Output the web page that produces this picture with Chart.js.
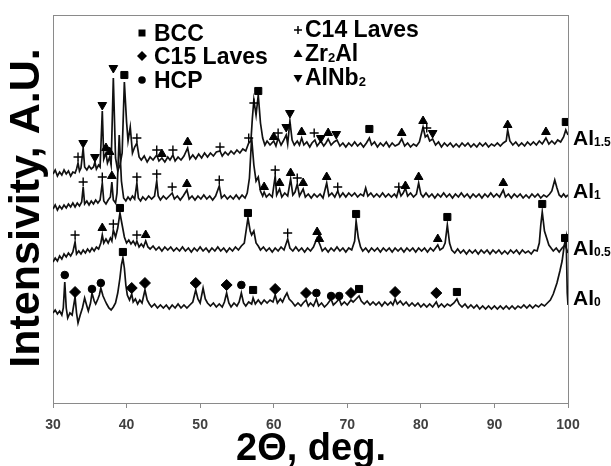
<!DOCTYPE html>
<html>
<head>
<meta charset="utf-8">
<script src="https://cdn.jsdelivr.net/npm/chart.js@4/dist/chart.umd.min.js"></script>
<style>
  html, body { margin: 0; padding: 0; background: #fff; }
  #wrap { width: 611px; height: 466px; position: relative; }
</style>
</head>
<body>
<div id="wrap"><canvas id="xrd" width="611" height="466"></canvas></div>
<script>
// 2theta (deg), intensity (a.u., offset traces)
const al15 = [
  [30.0,229],[30.3,233],[30.6,227],[30.9,231],[31.2,228],[31.5,233],[31.8,229],[32.1,232],[32.4,227],[32.7,231],
  [33.0,230],[33.2,234],[33.4,240],[33.6,232],[33.8,235],[34.1,255],[34.3,236],[34.6,233],[34.9,237],[35.2,234],
  [35.5,236],[35.7,241],[35.9,234],[36.2,238],[36.4,236],[36.7,292],[36.9,244],[37.2,250],[37.4,240],[37.7,246],
  [37.9,238],[38.2,325],[38.5,245],[38.8,232],[39.1,238],[39.4,250],[39.7,321],[40.0,281],[40.2,262],[40.5,276],
  [40.8,250],[41.1,256],[41.4,260],[41.7,246],[42.0,243],[42.4,247],[42.8,241],[43.2,246],[43.6,243],[44.1,248],
  [44.4,242],[44.8,245],[45.2,241],[45.6,246],[45.9,243],[46.3,248],[46.6,242],[47.0,246],[47.4,243],[47.8,247],
  [48.3,255],[48.6,244],[49.0,248],[49.4,244],[49.8,249],[50.2,245],[50.6,250],[51.0,246],[51.4,250],[51.8,247],
  [52.2,251],[52.7,252],[53.0,247],[53.4,251],[53.8,248],[54.2,252],[54.6,249],[55.0,253],[55.4,250],[55.8,254],
  [56.2,252],[56.6,260],[56.9,262],[57.1,285],[57.3,303],[57.6,288],[57.9,308],[58.2,280],[58.5,265],[58.8,258],
  [59.1,262],[59.5,258],[60.0,262],[60.3,257],[60.6,265],[61.0,258],[61.3,262],[61.7,268],[61.9,259],[62.2,282],
  [62.5,263],[62.8,258],[63.2,262],[63.5,258],[63.8,265],[64.1,258],[64.5,261],[64.9,256],[65.2,260],[65.6,263],
  [65.9,257],[66.4,262],[66.8,257],[67.1,260],[67.4,264],[67.8,258],[68.2,261],[68.6,263],[69.0,257],[69.4,260],
  [69.8,256],[70.2,260],[70.6,257],[71.0,261],[71.4,257],[71.8,260],[72.2,256],[72.6,260],[73.0,265],[73.3,258],
  [73.7,261],[74.1,256],[74.5,260],[74.9,257],[75.3,261],[75.7,256],[76.1,260],[76.5,257],[77.0,259],[77.4,264],
  [77.8,257],[78.2,260],[78.6,256],[79.0,259],[79.4,257],[79.8,261],[80.1,270],[80.3,276],[80.6,266],[80.9,268],
  [81.2,262],[81.6,264],[82.0,258],[82.4,261],[82.8,256],[83.2,260],[83.6,257],[84.0,260],[84.4,256],[84.8,259],
  [85.2,256],[85.6,260],[86.0,257],[86.4,260],[86.8,256],[87.2,259],[87.6,256],[88.0,260],[88.4,257],[88.8,260],
  [89.2,256],[89.6,259],[90.0,257],[90.4,260],[90.8,257],[91.2,260],[91.6,262],[91.8,273],[92.1,262],[92.5,258],
  [92.9,261],[93.3,257],[93.7,260],[94.1,257],[94.5,261],[94.9,258],[95.3,261],[95.7,258],[96.1,262],[96.5,259],
  [97.0,265],[97.4,259],[97.8,262],[98.2,259],[98.6,263],[99.0,261],[99.4,266],[99.7,273],[100.0,268]
];
const al1 = [
  [30.0,194],[30.3,198],[30.6,193],[30.9,197],[31.2,194],[31.5,198],[31.8,195],[32.1,199],[32.4,196],[32.7,200],
  [33.0,196],[33.3,200],[33.6,197],[33.9,201],[34.1,216],[34.3,199],[34.6,202],[34.9,198],[35.2,202],[35.5,199],
  [35.8,203],[36.1,200],[36.4,203],[36.7,220],[36.9,202],[37.2,199],[37.5,203],[37.8,206],[38.0,221],[38.2,203],
  [38.5,200],[38.7,210],[39.0,268],[39.3,222],[39.6,205],[39.9,202],[40.2,206],[40.5,203],[40.8,207],[41.1,204],
  [41.4,220],[41.6,205],[41.9,202],[42.2,206],[42.6,203],[43.0,207],[43.4,204],[43.8,207],[44.1,222],[44.3,207],
  [44.6,203],[45.0,207],[45.4,204],[45.8,207],[46.2,210],[46.5,204],[46.9,207],[47.3,203],[47.7,207],[48.2,213],
  [48.5,204],[48.9,207],[49.3,203],[49.7,207],[50.1,204],[50.5,208],[50.9,204],[51.3,207],[51.7,203],[52.1,207],
  [52.6,217],[52.9,205],[53.3,208],[53.7,204],[54.1,207],[54.5,204],[54.9,208],[55.3,204],[55.7,208],[56.1,205],
  [56.4,210],[56.7,225],[57.0,265],[57.3,238],[57.6,222],[57.9,226],[58.2,212],[58.5,207],[58.7,211],[59.0,206],
  [59.4,209],[59.8,206],[60.2,227],[60.4,208],[60.8,214],[61.1,206],[61.5,210],[61.9,207],[62.3,224],[62.6,208],
  [62.9,211],[63.2,219],[63.5,207],[64.0,214],[64.3,206],[64.7,209],[65.1,205],[65.5,209],[65.9,206],[66.3,209],
  [66.7,205],[67.2,220],[67.5,207],[67.9,210],[68.3,206],[68.7,212],[69.0,206],[69.4,210],[69.8,206],[70.2,210],
  [70.6,207],[71.0,210],[71.4,206],[71.8,209],[72.2,207],[72.5,215],[72.8,207],[73.2,210],[73.6,206],[74.0,209],
  [74.4,206],[74.8,210],[75.2,206],[75.6,209],[76.0,206],[76.4,209],[76.7,206],[77.0,214],[77.3,207],[77.6,210],
  [77.9,215],[78.2,207],[78.6,210],[79.0,206],[79.4,209],[79.7,220],[80.0,209],[80.3,206],[80.7,210],[81.1,206],
  [81.5,209],[81.9,205],[82.3,209],[82.7,206],[83.1,210],[83.5,206],[83.9,209],[84.3,205],[84.7,209],[85.1,206],
  [85.5,210],[85.9,206],[86.3,209],[86.7,205],[87.1,209],[87.5,206],[87.9,209],[88.3,205],[88.7,209],[89.1,206],
  [89.5,210],[89.9,206],[90.3,209],[90.7,206],[91.2,213],[91.5,206],[91.9,209],[92.3,205],[92.7,209],[93.1,206],
  [93.5,209],[93.9,205],[94.3,208],[94.7,205],[95.1,209],[95.5,206],[95.9,209],[96.3,205],[96.7,208],[97.1,206],
  [97.5,209],[97.8,212],[98.2,223],[98.5,215],[98.8,208],[99.1,206],[99.4,209],[99.7,206],[100.0,208]
];
const al05 = [
  [30.0,141],[30.3,145],[30.6,142],[30.9,147],[31.2,144],[31.5,149],[31.8,146],[32.1,150],[32.4,147],[32.7,151],
  [33.0,161],[33.2,149],[33.5,152],[33.8,149],[34.1,153],[34.4,150],[34.7,154],[35.0,151],[35.3,155],[35.6,152],
  [35.9,156],[36.2,154],[36.5,160],[36.7,168],[36.9,160],[37.2,164],[37.5,160],[37.8,165],[38.0,162],[38.2,173],
  [38.5,166],[38.8,175],[39.1,190],[39.4,178],[39.7,166],[40.0,160],[40.3,163],[40.6,159],[40.9,162],[41.2,158],
  [41.4,162],[41.7,156],[42.0,159],[42.3,156],[42.6,162],[42.9,156],[43.2,154],[43.6,157],[44.0,153],[44.4,156],
  [44.8,152],[45.2,156],[45.6,153],[46.0,156],[46.4,152],[46.8,155],[47.2,152],[47.6,156],[48.0,152],[48.4,155],
  [48.8,151],[49.2,155],[49.6,152],[50.0,156],[50.4,152],[50.8,155],[51.2,151],[51.6,155],[52.0,152],[52.4,156],
  [52.8,152],[53.2,155],[53.6,151],[54.0,155],[54.4,152],[54.8,156],[55.2,153],[55.6,157],[56.0,160],[56.3,175],
  [56.5,185],[56.8,172],[57.0,168],[57.3,172],[57.6,160],[57.9,157],[58.2,153],[58.6,156],[59.0,152],[59.4,155],
  [59.8,151],[60.2,155],[60.6,152],[61.0,156],[61.4,153],[61.9,164],[62.2,155],[62.6,152],[63.0,156],[63.4,152],
  [63.8,155],[64.2,151],[64.6,155],[65.0,152],[65.4,156],[65.9,165],[66.3,158],[66.6,152],[67.0,155],[67.4,151],
  [67.8,155],[68.2,152],[68.6,156],[69.0,152],[69.4,155],[69.8,151],[70.2,155],[70.6,153],[71.0,162],[71.2,182],
  [71.5,165],[71.8,156],[72.1,152],[72.5,155],[72.9,151],[73.3,155],[73.7,152],[74.1,155],[74.5,151],[74.9,155],
  [75.3,152],[75.7,155],[76.1,151],[76.5,155],[76.9,152],[77.3,155],[77.7,151],[78.1,155],[78.5,152],[78.9,155],
  [79.3,151],[79.7,155],[80.1,152],[80.5,155],[80.9,151],[81.3,155],[81.7,152],[82.1,156],[82.3,158],[82.6,153],
  [83.0,155],[83.3,160],[83.6,178],[83.9,160],[84.2,153],[84.6,150],[85.0,154],[85.4,150],[85.8,153],[86.2,149],
  [86.6,153],[87.0,150],[87.4,153],[87.8,149],[88.2,153],[88.6,150],[89.0,153],[89.4,149],[89.8,153],[90.2,150],
  [90.6,153],[91.0,149],[91.4,152],[91.8,149],[92.2,153],[92.6,150],[93.0,153],[93.4,149],[93.8,153],[94.2,150],
  [94.6,152],[95.0,149],[95.4,153],[95.8,152],[96.1,160],[96.3,178],[96.5,191],[96.8,172],[97.1,165],[97.4,158],
  [97.7,155],[98.0,152],[98.4,155],[98.8,151],[99.2,155],[99.6,158],[100.0,150]
];
const al0 = [
  [30.0,90],[30.3,93],[30.6,89],[30.9,92],[31.2,88],[31.4,95],[31.6,121],[31.8,95],[32.0,85],[32.3,90],
  [32.6,88],[33.0,106],[33.2,90],[33.4,80],[33.7,88],[34.0,95],[34.3,105],[34.6,97],[34.8,92],[35.1,100],
  [35.3,110],[35.6,102],[35.8,99],[36.1,104],[36.3,108],[36.5,115],[36.8,107],[37.1,102],[37.3,99],[37.6,95],
  [37.9,93],[38.2,96],[38.5,100],[38.8,110],[39.1,125],[39.3,138],[39.5,145],[39.7,135],[39.9,118],[40.1,108],
  [40.4,103],[40.7,109],[40.9,101],[41.2,104],[41.5,99],[41.8,103],[42.1,100],[42.5,113],[42.8,103],[43.1,99],
  [43.4,96],[43.8,99],[44.2,95],[44.6,98],[45.0,95],[45.4,98],[45.8,94],[46.2,98],[46.6,95],[47.0,99],
  [47.4,95],[47.8,98],[48.2,95],[48.6,98],[49.0,101],[49.4,113],[49.7,104],[50.0,100],[50.4,115],[50.7,104],
  [51.0,100],[51.4,97],[51.8,100],[52.2,96],[52.6,99],[53.0,96],[53.3,101],[53.6,110],[53.9,100],[54.2,96],
  [54.6,100],[55.0,97],[55.3,101],[55.6,110],[55.9,100],[56.2,97],[56.6,101],[57.0,99],[57.2,105],[57.5,99],
  [57.9,103],[58.3,99],[58.7,103],[59.1,100],[59.5,103],[59.9,101],[60.2,108],[60.5,100],[60.9,104],[61.2,101],
  [61.5,106],[61.8,110],[62.1,104],[62.5,101],[62.9,97],[63.3,100],[63.7,97],[64.0,100],[64.4,103],[64.7,97],
  [65.0,100],[65.4,97],[65.8,104],[66.1,97],[66.5,100],[66.9,96],[67.3,99],[67.8,104],[68.1,98],[68.4,100],
  [68.9,104],[69.2,98],[69.6,101],[70.0,98],[70.5,103],[70.8,101],[71.2,104],[71.6,107],[71.9,102],[72.3,99],
  [72.7,102],[73.1,98],[73.5,101],[73.9,98],[74.3,101],[74.7,97],[75.1,101],[75.5,98],[75.9,101],[76.2,98],
  [76.5,104],[76.8,99],[77.2,102],[77.6,98],[78.0,101],[78.4,97],[78.8,100],[79.2,97],[79.6,100],[80.0,96],
  [80.4,99],[80.8,96],[81.2,99],[81.6,96],[82.1,101],[82.4,96],[82.8,99],[83.2,96],[83.6,99],[84.0,97],
  [84.5,100],[84.9,104],[85.2,99],[85.6,96],[86.0,99],[86.4,95],[86.8,98],[87.2,95],[87.6,98],[88.0,94],
  [88.4,97],[88.8,94],[89.2,97],[89.6,94],[90.0,97],[90.4,94],[90.8,97],[91.2,94],[91.6,97],[92.0,94],
  [92.4,97],[92.8,94],[93.2,97],[93.6,95],[94.0,98],[94.4,95],[94.8,98],[95.2,95],[95.6,98],[96.0,96],
  [96.4,99],[96.8,97],[97.2,100],[97.6,103],[98.0,109],[98.5,120],[98.9,132],[99.2,142],[99.5,158],[99.75,166],
  [99.9,110],[100.0,98]
];

// phase markers: [2theta, height]
const bccPeaks = [[39.7,328],[57.9,312],[73.0,274],[99.7,281],[39.1,195],[56.5,190],[71.2,189],[83.6,186],[96.5,199],[99.6,165],[39.5,151],[57.2,113],[71.6,114],[84.9,111]];
const c15Peaks = [[33.0,111],[40.7,115],[42.5,120],[49.4,120],[53.6,118],[60.2,114],[64.4,110],[70.5,110],[76.5,111],[82.1,110]];
const hcpPeaks = [[31.6,128],[35.3,114],[36.5,120],[55.6,118],[65.8,110],[67.8,107],[68.9,107]];
const c14Peaks = [[33.4,246],[41.4,265],[44.1,253],[46.3,253],[52.7,256],[56.6,265],[57.3,300],[60.6,270],[65.5,270],[80.8,275],
  [34.1,221],[36.7,226],[41.4,226],[44.1,229],[46.2,216],[52.6,223],[60.2,233],[63.2,225],[68.7,216],[77.0,216],
  [33.0,168],[38.2,179],[41.4,168],[61.9,170]];
const zr2alPeaks = [[37.2,255],[37.7,251],[44.8,249],[48.3,261],[60.0,266],[63.8,271],[67.4,270],[77.4,270],[80.3,282],[91.8,278],[97.0,271],
  [38.0,227],[48.2,219],[58.7,216],[60.8,220],[62.3,230],[64.0,220],[67.2,226],[77.9,217],[79.7,226],[91.2,220],
  [36.7,175],[42.6,168],[65.9,171],[66.2,164],[82.3,164]];
const alnb2Peaks = [[34.1,260],[35.7,246],[36.7,298],[38.2,335],[61.7,276],[62.2,290],[66.4,265],[68.5,269],[81.6,270]];

const xTicks = [30, 40, 50, 60, 70, 80, 90, 100];
const traceLabels = [["Al", "1.5"], ["Al", "1"], ["Al", "0.5"], ["Al", "0"]];
const legendLeft = [["rect", "BCC"], ["rectRot", "C15 Laves"], ["circle", "HCP"]];
const legendRight = [["cross", ["C14 Laves"]], ["triangle", ["Zr", "2", "Al"]], ["down", ["AlNb", "2"]]];

const toXY = arr => arr.map(p => ({ x: p[0], y: p[1] }));

function trace(data) {
  return { data: toXY(data), showLine: true, borderColor: "#111", borderWidth: 1.7, pointRadius: 0, order: 2 };
}
function marks(data, style, r, extra) {
  return Object.assign({
    data: toXY(data), showLine: false, pointStyle: style, pointRadius: r,
    backgroundColor: "#000", borderColor: "#000", borderWidth: 1, order: 1
  }, extra || {});
}

const FONT = '"Liberation Sans", Arial, sans-serif';

function drawSym(ctx, kind, x, y) {
  ctx.save();
  ctx.fillStyle = "#000"; ctx.strokeStyle = "#000"; ctx.lineWidth = 1.5;
  ctx.beginPath();
  if (kind === "rect") { ctx.rect(x - 3.5, y - 3.5, 7, 7); ctx.fill(); }
  else if (kind === "rectRot") { ctx.moveTo(x, y - 5); ctx.lineTo(x + 5, y); ctx.lineTo(x, y + 5); ctx.lineTo(x - 5, y); ctx.closePath(); ctx.fill(); }
  else if (kind === "circle") { ctx.arc(x, y, 3.8, 0, Math.PI * 2); ctx.fill(); }
  else if (kind === "cross") { ctx.moveTo(x - 4, y); ctx.lineTo(x + 4, y); ctx.moveTo(x, y - 4); ctx.lineTo(x, y + 4); ctx.stroke(); }
  else if (kind === "triangle") { ctx.moveTo(x, y - 4.5); ctx.lineTo(x + 4.5, y + 3); ctx.lineTo(x - 4.5, y + 3); ctx.closePath(); ctx.fill(); }
  else if (kind === "down") { ctx.moveTo(x, y + 4.5); ctx.lineTo(x + 4.5, y - 3); ctx.lineTo(x - 4.5, y - 3); ctx.closePath(); ctx.fill(); }
  ctx.restore();
}

// text runs: alternating normal / subscript pieces
function drawRuns(ctx, runs, x, y, big, small) {
  runs.forEach((t, i) => {
    const sub = i % 2 === 1;
    ctx.font = "bold " + (sub ? small : big) + "px " + FONT;
    ctx.fillText(t, x, y + (sub ? 1 : 0));
    x += ctx.measureText(t).width;
  });
}

const decor = {
  id: "decor",
  beforeDatasetsDraw(chart) {
    const { ctx, chartArea: a } = chart;
    ctx.save();
    ctx.strokeStyle = "#8a8a8a"; ctx.lineWidth = 1;
    ctx.strokeRect(a.left + 0.5, a.top + 0.5, a.right - a.left, a.bottom - a.top);
    ctx.restore();
  },
  afterDraw(chart) {
    const { ctx, chartArea: a } = chart;
    ctx.save();
    ctx.fillStyle = "#000";
    ctx.textAlign = "left"; ctx.textBaseline = "alphabetic";

    // legend, two columns
    const leftY = [41, 64, 88], rightY = [37, 61, 85];
    legendLeft.forEach((it, i) => {
      drawSym(ctx, it[0], 142, leftY[i] - 8);
      ctx.font = "bold 23px " + FONT;
      ctx.fillText(it[1], 154, leftY[i]);
    });
    legendRight.forEach((it, i) => {
      drawSym(ctx, it[0], 298, rightY[i] - 7);
      drawRuns(ctx, it[1], 305, rightY[i], 23, 13);
    });

    // trace labels on the right
    const labelY = [145, 198, 255, 305];
    traceLabels.forEach((t, i) => drawRuns(ctx, t, a.right + 5, labelY[i], 21, 12));

    // axis titles
    ctx.font = "bold 38px " + FONT;
    ctx.textAlign = "center";
    ctx.fillText("2\u0398, deg.", 311, 460);
    ctx.save();
    ctx.translate(39, 208);
    ctx.rotate(-Math.PI / 2);
    ctx.font = "bold 43px " + FONT;
    ctx.fillText("Intensivity, A.U.", 0, 0);
    ctx.restore();
    ctx.restore();
  }
};

new Chart(document.getElementById("xrd"), {
  type: "scatter",
  data: {
    datasets: [
      trace(al15), trace(al1), trace(al05), trace(al0),
      marks(bccPeaks, "rect", 5),
      marks(c15Peaks, "rectRot", 5.5),
      marks(hcpPeaks, "circle", 3.8),
      marks(c14Peaks, "cross", 4.5, { borderWidth: 1.4 }),
      marks(zr2alPeaks, "triangle", 5),
      marks(alnb2Peaks, "triangle", 5, { rotation: 180 })
    ]
  },
  options: {
    responsive: false,
    animation: false,
    events: [],
    layout: { padding: { left: 53, right: 43, top: 15, bottom: 0 } },
    plugins: { legend: { display: false }, tooltip: { enabled: false } },
    scales: {
      x: {
        type: "linear", min: 30, max: 100,
        afterBuildTicks: s => { s.ticks = xTicks.map(v => ({ value: v })); },
        afterFit: s => { s.height = 63; },
        grid: { drawOnChartArea: false, drawTicks: true, tickLength: 5, color: "#8a8a8a" },
        border: { color: "#8a8a8a" },
        ticks: { padding: 9, color: "#404040", font: { family: FONT, weight: "bold", size: 14 } }
      },
      y: { display: false, min: 0, max: 388 }
    }
  },
  plugins: [decor]
});
</script>
</body>
</html>
